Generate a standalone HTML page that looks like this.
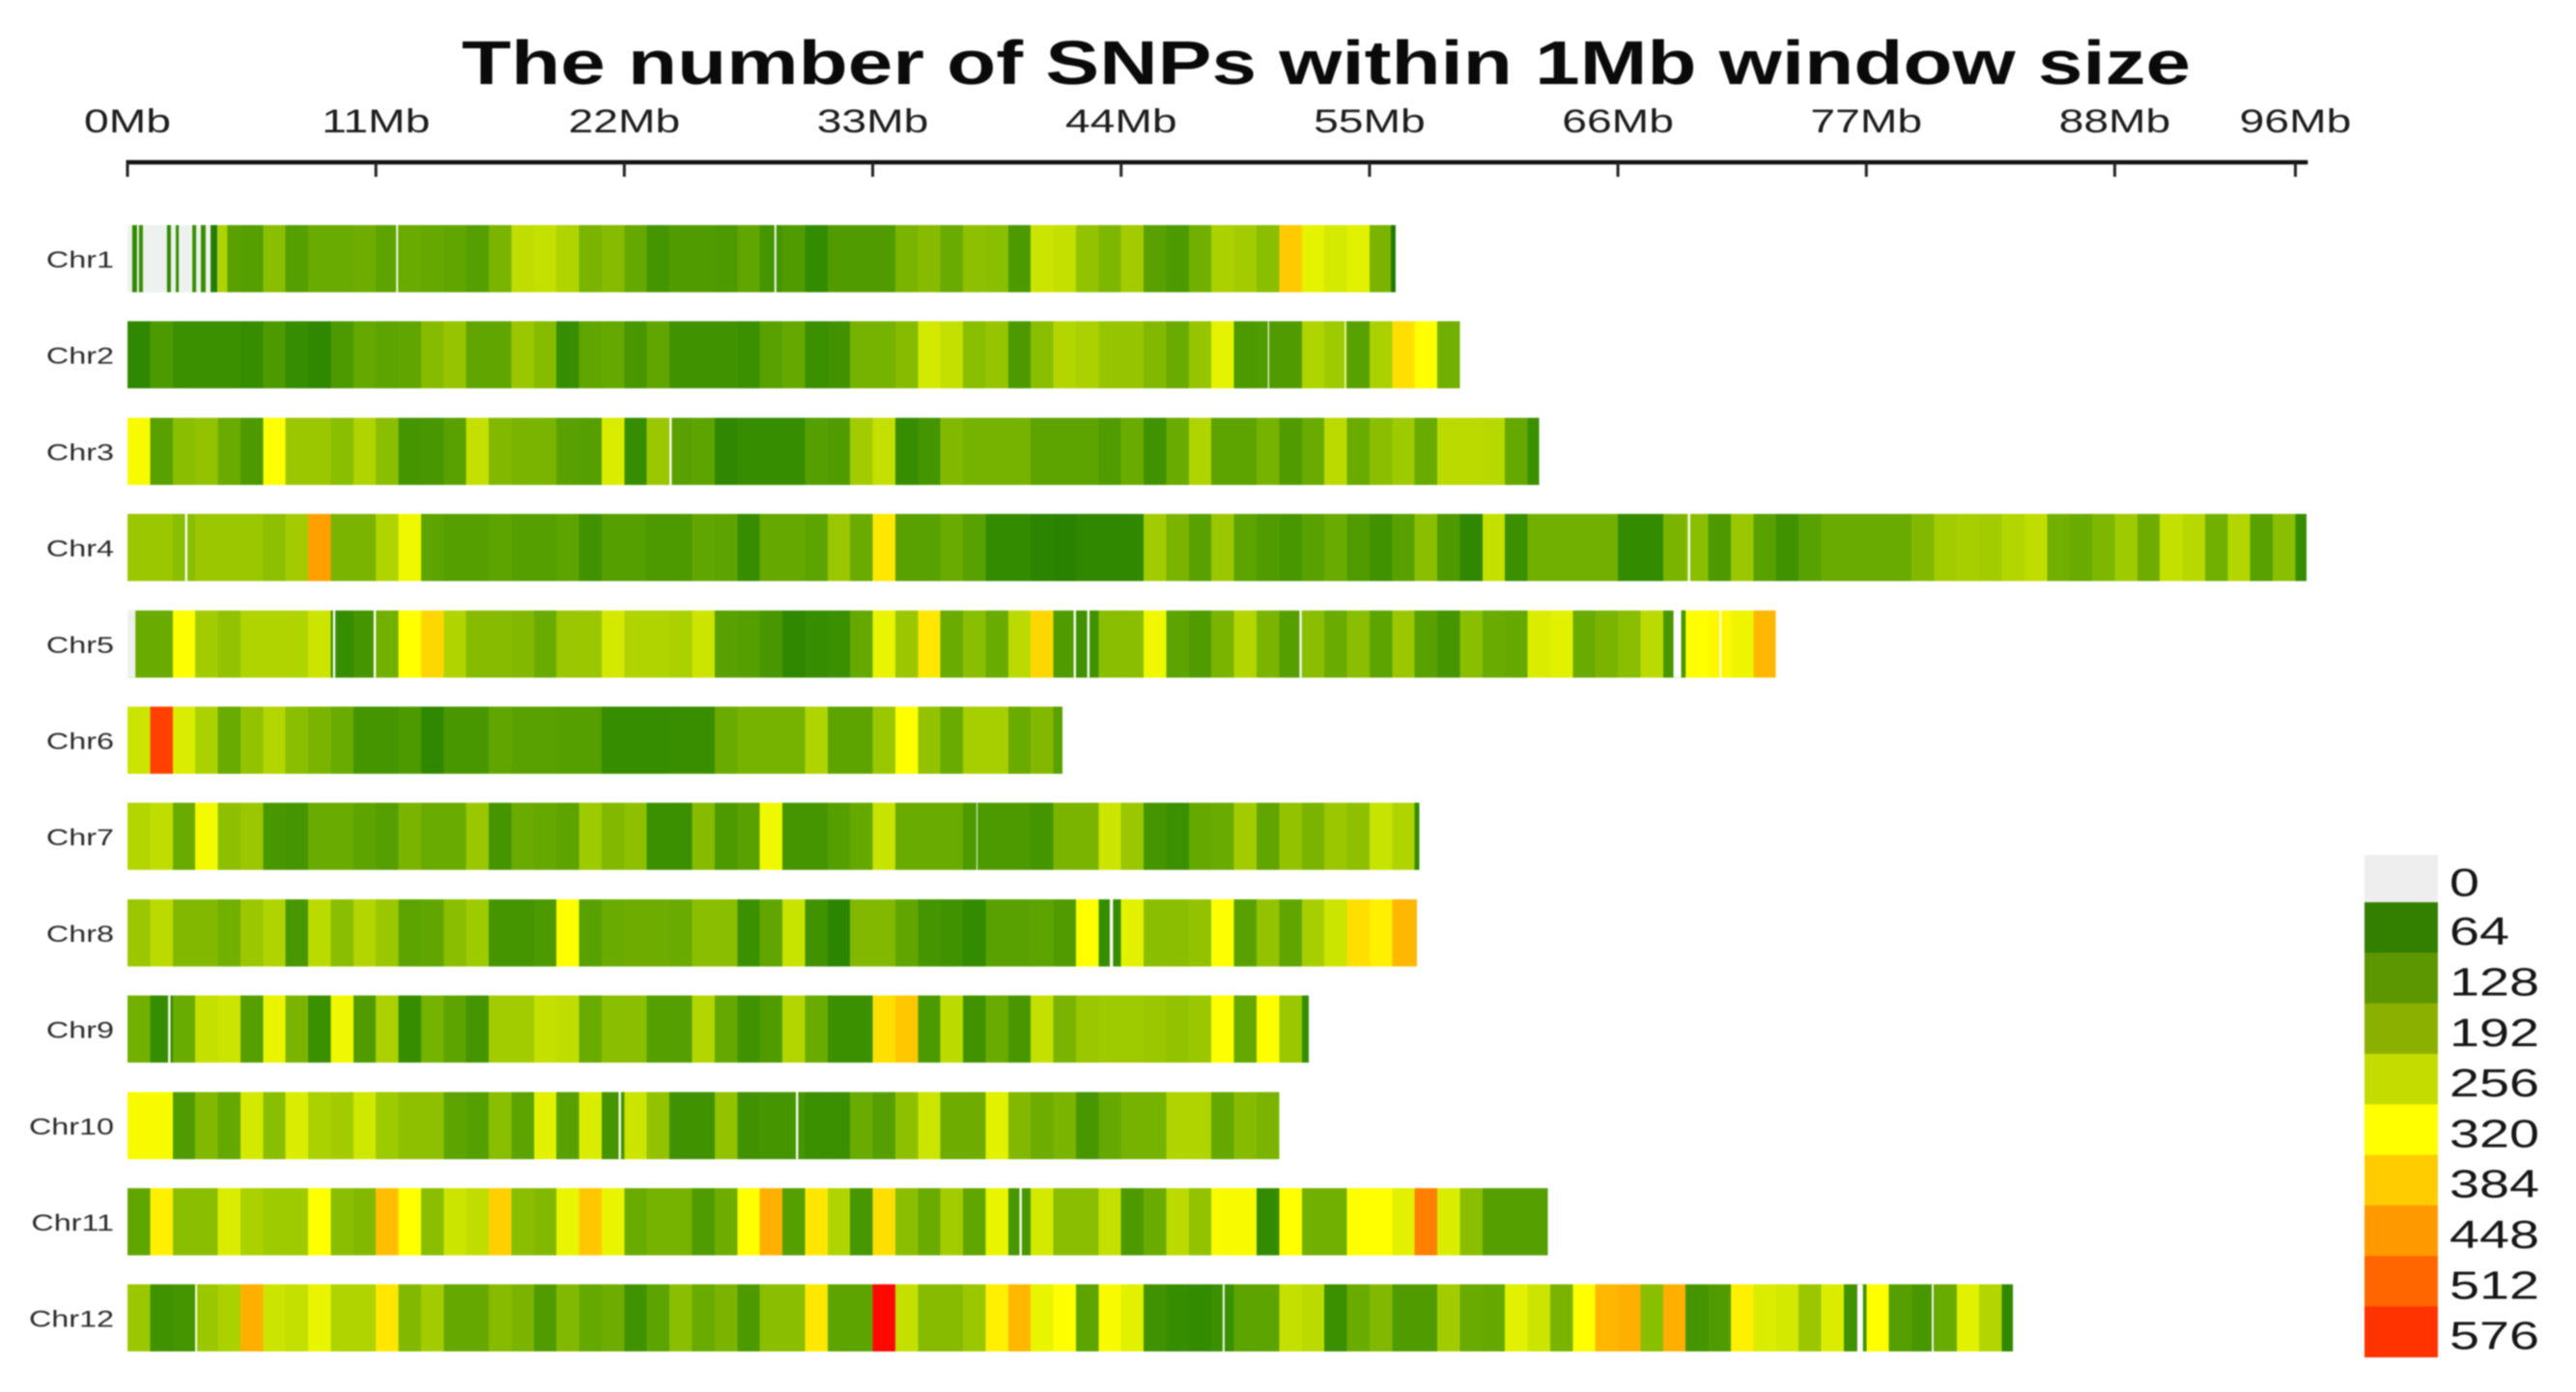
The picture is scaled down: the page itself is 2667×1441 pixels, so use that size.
<!DOCTYPE html>
<html lang="en">
<head>
<meta charset="utf-8">
<title>The number of SNPs within 1Mb window size</title>
<style>
html,body{margin:0;padding:0;background:#fff;width:2667px;height:1441px;overflow:hidden}
svg{display:block;filter:blur(0.9px)}
text{font-family:"Liberation Sans",Arial,sans-serif}
</style>
</head>
<body>
<svg id="chart" width="2667" height="1441" viewBox="0 0 2667 1441" xmlns="http://www.w3.org/2000/svg">
  <rect x="0" y="0" width="2667" height="1441" fill="#ffffff"/>
  <text x="478" y="87" font-size="64" font-weight="bold" fill="#0a0a0a" textLength="1790" lengthAdjust="spacingAndGlyphs">The number of SNPs within 1Mb window size</text>
  <g id="axis"></g>
  <g id="rows"></g>
  <g id="legend"></g>
</svg>
<script>
var tickValues = [0, 11, 22, 33, 44, 55, 66, 77, 88, 96];
var tickLabels = ["0Mb", "11Mb", "22Mb", "33Mb", "44Mb", "55Mb", "66Mb", "77Mb", "88Mb", "96Mb"];
var axisMaxMb = 96.55;
var chrNames = ["Chr1", "Chr2", "Chr3", "Chr4", "Chr5", "Chr6", "Chr7", "Chr8", "Chr9", "Chr10", "Chr11", "Chr12"];
var chrLengths = [56.15, 59, 62.5, 96.5, 73, 41.4, 57.2, 57.1, 52.3, 51, 62.9, 83.5];
var legendLabels = [0, 64, 128, 192, 256, 320, 384, 448, 512, 576];
var legendColors = ["#eeeeee", "#338000", "#5c9600", "#8cb000", "#c4dc00", "#ffff00", "#ffcc00", "#ff9900", "#ff6600", "#ff3300"];
var stopValues = [32, 64, 128, 192, 256, 320, 384, 448, 512, 576, 640];
var stopColors = ["#1e7800", "#328a00", "#68aa00", "#9cc800", "#d0e800", "#ffff00", "#ffcc00", "#ff9900", "#ff6600", "#ff3300", "#ff0000"];

var chr1 = [0,0,0,0,110,105,170,105,130,130, 135,115,130,125,120,105,150,235,240,215, 150,165,125,85,100,100,95,120,85,100, 65,100,100,100,150,165,130,175,170,95, 250,240,180,155,200,110,95,140,210,200, 170,385,285,262,280,150];
var chr2 = [60,95,75,75,75,70,95,70,60,95, 125,115,120,165,185,120,120,190,165,70, 120,125,90,120,80,80,80,75,110,125, 75,80,145,145,165,260,240,170,185,95, 170,220,210,185,185,160,130,185,285,95, 100,100,215,195,110,210,360,320,140];
var chr3 = [310,110,170,180,130,95,320,190,190,170, 215,170,85,90,110,240,160,150,150,110, 105,270,70,190,110,115,60,70,70,70, 105,100,200,240,70,85,160,145,145,145, 115,115,115,100,130,80,130,215,115,115, 145,100,130,230,130,170,195,130,230,230, 225,125,75];
var chr4 = [190,190,170,190,190,190,175,200,440,150, 150,215,300,115,105,105,115,105,105,115, 80,105,105,95,95,120,115,70,125,125, 115,190,130,350,110,110,130,110,65,65, 55,50,60,60,60,200,150,110,190,115, 100,90,110,130,100,80,110,170,95,60, 240,75,140,140,140,140,65,65,150,170, 95,190,110,80,110,130,130,130,130,160, 200,205,200,220,235,140,130,155,195,135, 240,225,140,220,110,170,70];
var chr5 = [130,130,320,200,180,215,215,215,250,70, 85,140,320,370,215,165,165,160,130,190, 190,260,215,215,210,250,110,105,90,60, 70,75,125,290,190,350,130,170,130,230, 370,100,80,170,170,300,115,100,150,220, 150,105,170,130,170,115,190,110,85,170, 130,125,270,280,130,150,170,230,90,320, 330,295,410];
var chr6 = [250,560,270,210,130,180,220,170,150,130, 85,85,95,60,90,90,120,110,110,105, 105,70,70,70,72,72,130,145,145,145, 215,115,115,190,320,180,130,205,205,130, 160,110];
var chr7 = [220,235,130,305,175,190,90,85,130,130, 115,105,150,130,130,190,85,130,125,115, 195,160,175,75,75,165,95,110,300,85, 85,105,125,245,130,130,130,95,95,95, 85,150,150,250,190,85,75,125,130,200, 120,180,150,190,175,245,215,65];
var chr8 = [190,230,160,160,140,190,215,90,230,170, 220,190,115,120,170,195,85,85,95,320, 110,130,135,135,130,170,170,75,120,245, 80,55,160,160,120,85,80,65,110,110, 115,100,320,70,280,170,170,180,320,110, 180,120,205,250,360,340,410];
var chr9 = [140,70,130,240,250,105,290,150,75,300, 100,210,70,145,115,85,200,200,240,235, 130,170,170,105,105,220,125,80,100,220, 130,75,75,360,390,95,230,80,130,90, 240,150,190,195,195,190,180,190,320,125, 320,190,70];
var chr10 = [310,310,100,160,125,260,170,270,210,200, 255,195,175,175,115,105,170,115,280,110, 270,85,250,180,80,80,180,80,85,85, 75,75,130,105,175,250,135,135,280,160, 135,150,90,125,145,145,215,215,125,165, 150];
var chr11 = [120,340,170,170,270,210,195,195,320,170, 160,400,320,170,250,235,380,170,160,290, 390,290,130,145,145,100,135,320,420,105, 350,215,90,360,170,130,200,120,290,90, 260,170,170,240,95,130,230,180,310,310, 65,320,140,140,320,320,280,480,270,170, 105,105,105];
var chr12 = [190,80,85,190,210,420,250,240,290,215, 215,350,160,200,125,125,165,150,100,160, 125,135,80,115,170,130,150,95,170,170, 350,115,115,630,240,165,165,190,340,410, 290,320,115,310,280,80,70,65,75,115, 115,240,230,75,130,160,100,100,200,130, 125,280,250,150,320,410,420,170,420,85, 100,340,270,260,190,270,80,320,105,90, 130,280,220,60];
var chrValues = [chr1, chr2, chr3, chr4, chr5, chr6, chr7, chr8, chr9, chr10, chr11, chr12];

/* narrow dense windows: chromosome index, start Mb, width Mb, SNP count */
var stripeChr = [0, 0, 0, 0, 0, 0, 0, 0, 0, 4, 4];
var stripeStart = [0.21, 0.51, 1.75, 2.14, 2.87, 3.25, 3.68, 4, 55.95, 0, 68.8];
var stripeSpan = [0.21, 0.17, 0.17, 0.13, 0.17, 0.21, 0.3, 0.42, 0.2, 0.35, 0.2];
var stripeCount = [60, 70, 60, 70, 70, 70, 40, 215, 32, 0, 90];

/* unsequenced white gaps: chromosome index, start Mb, width Mb */
var gapChr = [0, 0, 1, 1, 2, 3, 3, 4, 4, 4, 4, 4, 4, 6, 7, 8, 9, 9, 10, 11, 11, 11, 11];
var gapStart = [11.9, 28.65, 50.5, 53.9, 24, 2.55, 69.1, 9.1, 10.9, 41.9, 42.5, 51.9, 70.5, 37.6, 43.5, 1.8, 21.75, 29.6, 39.5, 3, 48.5, 76.6, 79.9];
var gapSpan = [0.08, 0.08, 0.05, 0.05, 0.1, 0.1, 0.1, 0.1, 0.1, 0.1, 0.1, 0.1, 0.08, 0.04, 0.14, 0.1, 0.1, 0.1, 0.1, 0.08, 0.08, 0.25, 0.08];
var gapExtra = [68.46];
var gapExtraSpan = [0.34];

var NS = "http://www.w3.org/2000/svg";
var X0 = 132, PX_PER_MB = 23.38;
var ROW_TOP = 233, ROW_STEP = 99.7, ROW_H = 69.5;
var LEG_TOP = 885, LEG_FIRST_H = 49, LEG_STEP = 52.3;

function xScale(mb) { return X0 + mb * PX_PER_MB; }
function rowTop(i) { return ROW_TOP + i * ROW_STEP; }
function hex(c) { return [parseInt(c.substr(1,2),16), parseInt(c.substr(3,2),16), parseInt(c.substr(5,2),16)]; }
function colorFor(v) {
  if (v <= 0) return "#eef2ee";
  if (v <= stopValues[0]) return stopColors[0];
  for (var i = 1; i < stopValues.length; i++) {
    if (v <= stopValues[i]) {
      var t = (v - stopValues[i-1]) / (stopValues[i] - stopValues[i-1]);
      var a = hex(stopColors[i-1]), b = hex(stopColors[i]);
      return "rgb(" + Math.round(a[0]+(b[0]-a[0])*t) + "," + Math.round(a[1]+(b[1]-a[1])*t) + "," + Math.round(a[2]+(b[2]-a[2])*t) + ")";
    }
  }
  return stopColors[stopColors.length-1];
}
function mk(tag, parent, attrs) {
  var el = document.createElementNS(NS, tag);
  for (var k in attrs) el.setAttribute(k, attrs[k]);
  parent.appendChild(el);
  return el;
}
function stretchedText(parent, str, x, y, size, sx, anchor, fill) {
  var el = mk("text", parent, {
    transform: "translate(" + x + "," + y + ") scale(" + sx + ",1)",
    "font-size": size, "text-anchor": anchor, fill: fill
  });
  el.textContent = str;
  return el;
}

var axis = document.getElementById("axis");
var axisLine = mk("line", axis, {x1: xScale(0) - 1.5, x2: xScale(axisMaxMb), y1: 168, y2: 168, stroke: "#111", "stroke-width": 4.5});


tickValues.forEach(function (t, i) {
  var tick = mk("line", axis, {x1: xScale(t), x2: xScale(t), y1: 168, y2: 183, stroke: "#222", "stroke-width": 3});
  
  
  var label = stretchedText(axis, tickLabels[i], xScale(t), 137, 34, 1.36, "middle", "#1c1c1c");
  
  
});

var rows = document.getElementById("rows");
chrValues.forEach(function (values, c) {
  var g = mk("g", rows, {"shape-rendering": "crispEdges"});
  
  
  var lab = stretchedText(rows, chrNames[c], 118, rowTop(c) + 44, 24.5, 1.32, "end", "#2a2a2a");
  
  
  values.forEach(function (v, i) {
    var end = i === values.length - 1 ? chrLengths[c] : i + 1;
    var cell = mk("rect", g, {x: xScale(i), y: rowTop(c), width: xScale(end) - xScale(i), height: ROW_H, fill: colorFor(v)});
    
    
  });
});
stripeChr.forEach(function (c, i) {
  var s = mk("rect", rows, {x: xScale(stripeStart[i]), y: rowTop(c), width: stripeSpan[i] * PX_PER_MB, height: ROW_H, fill: colorFor(stripeCount[i])});
  
  
});
gapChr.forEach(function (c, i) {
  var s = mk("rect", rows, {x: xScale(gapStart[i]), y: rowTop(c), width: gapSpan[i] * PX_PER_MB, height: ROW_H, fill: "#ffffff"});
  
  
});
gapExtra.forEach(function (m, i) {
  var s = mk("rect", rows, {x: xScale(m), y: rowTop(4), width: gapExtraSpan[i] * PX_PER_MB, height: ROW_H, fill: "#ffffff"});
  
  
});

var legend = document.getElementById("legend");
legendLabels.forEach(function (v, i) {
  var top = i === 0 ? LEG_TOP : LEG_TOP + LEG_FIRST_H + (i - 1) * LEG_STEP;
  var h = i === 0 ? LEG_FIRST_H : LEG_STEP;
  var block = mk("rect", legend, {x: 2448, y: top, width: 76, height: h + 0.5, fill: legendColors[i]});
  
  
  var t = stretchedText(legend, String(v), 2536, top + h / 2 + 18, 41, 1.36, "start", "#161616");
  
  
});
</script>
</body>
</html>
